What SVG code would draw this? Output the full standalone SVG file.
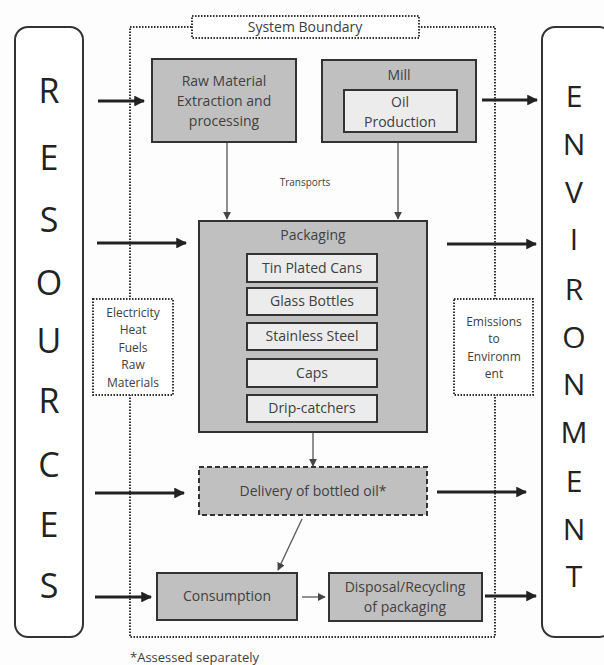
<svg xmlns="http://www.w3.org/2000/svg" width="604" height="665" viewBox="0 0 604 665">
<defs>
<marker id="ah" viewBox="0 0 10 10" refX="9" refY="5" markerWidth="3.6" markerHeight="3.6" orient="auto" markerUnits="strokeWidth"><path d="M0,0 L10,5 L0,10 z" fill="#222"/></marker>
<marker id="ahs" viewBox="0 0 10 10" refX="9" refY="5" markerWidth="6" markerHeight="6" orient="auto" markerUnits="strokeWidth"><path d="M0,0 L10,5 L0,10 z" fill="#444"/></marker>
<style>
text{font-family:"Open Sans","Noto Sans",sans-serif;fill:#404040;text-anchor:middle}
.big{font-size:34px;fill:#222}
.env{font-size:30px;fill:#222}
.lbl{font-size:14px}
.sm{font-size:12px}
.box{fill:#c0c0c0;stroke:#333;stroke-width:2}
.inner{fill:#ececec;stroke:#333;stroke-width:2}
.dot{fill:#fff;stroke:#333;stroke-width:2;stroke-dasharray:1.5 1.5}
.thick{stroke:#222;stroke-width:3;fill:none;marker-end:url(#ah)}
.thin{stroke:#555;stroke-width:1.3;fill:none;marker-end:url(#ahs)}
</style>
</defs>
<rect width="604" height="665" fill="#fdfdfd"/>
<g id="boundary">
<rect x="130" y="27" width="365" height="610" fill="none" stroke="#333" stroke-width="2" stroke-dasharray="1.5 1.5"/>
<rect class="dot" x="192" y="16" width="227" height="22"/>
<text class="lbl" x="305" y="32">System Boundary</text>
</g>
<g id="resources">
<rect x="15" y="27" width="68" height="610" rx="13" fill="#fff" stroke="#333" stroke-width="2"/>
<text class="big" x="49" y="103">R</text>
<text class="big" x="49" y="170">E</text>
<text class="big" x="49" y="232">S</text>
<text class="big" x="49" y="295">O</text>
<text class="big" x="49" y="353">U</text>
<text class="big" x="49" y="413">R</text>
<text class="big" x="49" y="477">C</text>
<text class="big" x="49" y="537">E</text>
<text class="big" x="49" y="598">S</text>
</g>
<g id="environment">
<rect x="542" y="27" width="70" height="610" rx="13" fill="#fff" stroke="#333" stroke-width="2"/>
<text class="env" x="574" y="107">E</text>
<text class="env" x="574" y="155">N</text>
<text class="env" x="574" y="203">V</text>
<text class="env" x="574" y="250">I</text>
<text class="env" x="574" y="300">R</text>
<text class="env" x="574" y="348">O</text>
<text class="env" x="574" y="395">N</text>
<text class="env" x="574" y="443">M</text>
<text class="env" x="574" y="492">E</text>
<text class="env" x="574" y="540">N</text>
<text class="env" x="574" y="587">T</text>
</g>
<g id="connectors">
<line class="thick" x1="98" y1="101" x2="144" y2="101"/>
<line class="thick" x1="482" y1="100" x2="537" y2="100"/>
<line class="thick" x1="97" y1="243" x2="186" y2="243"/>
<line class="thick" x1="447" y1="244" x2="536" y2="244"/>
<line class="thick" x1="95" y1="493" x2="184" y2="493"/>
<line class="thick" x1="437" y1="492" x2="526" y2="492"/>
<line class="thick" x1="95" y1="597" x2="151" y2="597"/>
<line class="thick" x1="485" y1="596" x2="536" y2="596"/>
<line class="thin" x1="227" y1="143" x2="227" y2="219"/>
<line class="thin" x1="398" y1="143" x2="398" y2="219"/>
<line class="thin" x1="313" y1="433" x2="313" y2="466"/>
<line class="thin" x1="302" y1="519" x2="278" y2="570"/>
<line class="thin" x1="302" y1="597" x2="325" y2="597"/>
</g>
<text x="305" y="186" style="font-size:10px">Transports</text>
<g id="raw-material">
<rect class="box" x="152" y="59" width="144" height="83"/>
<text class="lbl" x="224" y="86">Raw Material</text>
<text class="lbl" x="224" y="106">Extraction and</text>
<text class="lbl" x="224" y="126">processing</text>
</g>
<g id="mill">
<rect class="box" x="322" y="60" width="154" height="82"/>
<text class="lbl" x="399" y="80">Mill</text>
<rect class="inner" x="344" y="90" width="113" height="42"/>
<text class="lbl" x="400" y="107">Oil</text>
<text class="lbl" x="400" y="127">Production</text>
</g>
<g id="packaging">
<rect class="box" x="199" y="221" width="228" height="211"/>
<text class="lbl" x="313" y="240">Packaging</text>
<rect class="inner" x="247" y="254" width="130" height="28"/>
<text class="lbl" x="312" y="273">Tin Plated Cans</text>
<rect class="inner" x="247" y="288" width="130" height="27"/>
<text class="lbl" x="312" y="306">Glass Bottles</text>
<rect class="inner" x="247" y="323" width="130" height="27"/>
<text class="lbl" x="312" y="341">Stainless Steel</text>
<rect class="inner" x="247" y="359" width="130" height="28"/>
<text class="lbl" x="312" y="378">Caps</text>
<rect class="inner" x="247" y="395" width="130" height="27"/>
<text class="lbl" x="312" y="413">Drip-catchers</text>
</g>
<g id="inputs">
<rect class="dot" x="93" y="299" width="80" height="96"/>
<text class="sm" x="133" y="317">Electricity</text>
<text class="sm" x="133" y="334">Heat</text>
<text class="sm" x="133" y="352">Fuels</text>
<text class="sm" x="133" y="369">Raw</text>
<text class="sm" x="133" y="387">Materials</text>
</g>
<g id="emissions">
<rect class="dot" x="454" y="299" width="79" height="96"/>
<text class="sm" x="494" y="326">Emissions</text>
<text class="sm" x="494" y="343">to</text>
<text class="sm" x="494" y="361">Environm</text>
<text class="sm" x="494" y="378">ent</text>
</g>
<g id="delivery">
<rect x="199" y="467" width="228" height="48" fill="#c0c0c0" stroke="#333" stroke-width="2" stroke-dasharray="5 3"/>
<text class="lbl" x="313" y="496">Delivery of bottled oil*</text>
</g>
<g id="consumption">
<rect class="box" x="157" y="573" width="140" height="47"/>
<text class="lbl" x="227" y="601">Consumption</text>
</g>
<g id="disposal">
<rect class="box" x="329" y="573" width="153" height="48"/>
<text class="lbl" x="405" y="592">Disposal/Recycling</text>
<text class="lbl" x="405" y="612">of packaging</text>
</g>
<text x="130" y="662" style="font-size:13px;text-anchor:start">*Assessed separately</text>
</svg>
